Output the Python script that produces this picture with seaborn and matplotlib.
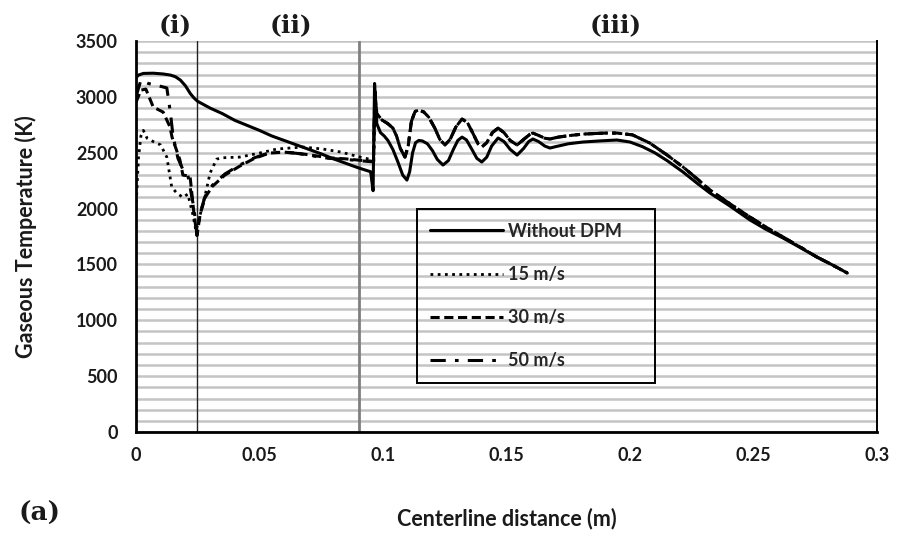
import numpy as np
import pandas as pd
import matplotlib
matplotlib.use("Agg")
import matplotlib.pyplot as plt
import seaborn as sns

# ---------------- data ----------------
# Without DPM (solid)
x_nodpm = [0, 0.001, 0.003, 0.007, 0.011, 0.014, 0.016, 0.018, 0.020, 0.022, 0.0235, 0.025,
           0.030, 0.035, 0.040, 0.045, 0.050, 0.055, 0.060, 0.065, 0.070, 0.075, 0.080, 0.085,
           0.090, 0.095, 0.0960, 0.0966, 0.0975, 0.099, 0.1005, 0.102, 0.104, 0.106, 0.108,
           0.1097, 0.1108, 0.112, 0.1132, 0.1145, 0.116, 0.118, 0.120, 0.122, 0.1243, 0.1265,
           0.1285, 0.1303, 0.132, 0.1338, 0.136, 0.138, 0.140, 0.142, 0.144, 0.1466, 0.149,
           0.1515, 0.1543, 0.157, 0.159, 0.1607, 0.163, 0.1655, 0.1676, 0.170, 0.175, 0.181,
           0.188, 0.1947, 0.200, 0.205, 0.210, 0.215, 0.2215, 0.227, 0.2324, 0.240, 0.2486,
           0.255, 0.262, 0.269, 0.2757, 0.282, 0.288]
t_nodpm = [3170, 3195, 3210, 3212, 3205, 3195, 3180, 3150, 3100, 3030, 2990, 2960,
           2900, 2850, 2790, 2745, 2700, 2650, 2610, 2570, 2530, 2490, 2445, 2405,
           2365, 2330, 2160, 3120, 2760, 2680, 2650, 2610, 2530, 2420, 2300,
           2255, 2330, 2500, 2590, 2610, 2605, 2580, 2520, 2440, 2390, 2430,
           2530, 2610, 2640, 2615, 2530, 2450, 2417, 2460, 2560, 2632, 2600,
           2530, 2479, 2540, 2600, 2623, 2600, 2560, 2542, 2555, 2580, 2596,
           2606, 2614, 2596, 2555, 2500, 2430, 2327, 2230, 2139, 2030, 1898,
           1815, 1736, 1650, 1566, 1495, 1423]

# Region (iii) for the DPM cases (the three curves overlap there)
x_dpm_iii = [0.0962, 0.0967, 0.0975, 0.0996, 0.102, 0.104, 0.1055, 0.107, 0.1089, 0.1102,
             0.1115, 0.113, 0.1145, 0.1165, 0.1185, 0.121, 0.123, 0.1251, 0.1272, 0.1295,
             0.132, 0.1342, 0.1365, 0.1385, 0.140, 0.142, 0.1443, 0.1466, 0.149, 0.1515,
             0.1543, 0.157, 0.1595, 0.1607, 0.163, 0.1655, 0.1676, 0.171, 0.176, 0.181,
             0.190, 0.1947, 0.201, 0.208, 0.215, 0.2215, 0.227, 0.2324, 0.240, 0.2486,
             0.255, 0.262, 0.269, 0.2757, 0.282, 0.288]
t_dpm_iii = [2420, 3050, 2850, 2793, 2760, 2721, 2650, 2540, 2461, 2560,
             2780, 2870, 2882, 2865, 2820, 2720, 2620, 2569, 2620, 2730,
             2802, 2770, 2670, 2580, 2551, 2590, 2680, 2721, 2680, 2610,
             2569, 2620, 2665, 2676, 2655, 2630, 2623, 2640, 2655, 2667,
             2676, 2676, 2660, 2587, 2480, 2372, 2270, 2166, 2050, 1924,
             1835, 1745, 1655, 1566, 1495, 1423]

# 15 m/s (dotted), regions (i)-(ii)
x_15 = [0, 0.001, 0.002, 0.003, 0.0045, 0.007, 0.010, 0.0125, 0.0145, 0.0165, 0.019,
        0.021, 0.023, 0.0243, 0.0255, 0.0285, 0.030, 0.0327, 0.035, 0.042, 0.050, 0.057,
        0.0675, 0.0757, 0.083, 0.0907, 0.095]
t_15 = [1990, 2450, 2650, 2700, 2630, 2600, 2570, 2460, 2190, 2140, 2100,
        2130, 1950, 1800, 1900, 2166, 2318, 2443, 2455, 2461, 2497, 2533,
        2551, 2533, 2506, 2461, 2440]

# 30 m/s (dashed), regions (i)-(ii)
x_30 = [0, 0.002, 0.004, 0.007, 0.011, 0.0138, 0.0146, 0.0178, 0.019, 0.0219, 0.0235,
        0.0247, 0.026, 0.028, 0.031, 0.036, 0.042, 0.048, 0.054, 0.060, 0.065, 0.072,
        0.078, 0.085, 0.090, 0.095]
t_30 = [2950, 3060, 3070, 2909, 2864, 2730, 2640, 2435, 2300, 2290, 1950,
        1760, 1950, 2100, 2200, 2300, 2380, 2450, 2497, 2505, 2497, 2475,
        2455, 2445, 2434, 2425]

# 50 m/s (dash-dot), regions (i)-(ii)
x_50 = [0, 0.002, 0.005, 0.009, 0.0125, 0.014, 0.015, 0.017, 0.019, 0.021, 0.0235,
        0.0247, 0.026, 0.028, 0.031, 0.036, 0.042, 0.048, 0.054, 0.060, 0.065, 0.072,
        0.078, 0.085, 0.090, 0.095]
t_50 = [3000, 3150, 3120, 3100, 3080, 2850, 2650, 2450, 2350, 2300, 2000,
        1760, 1960, 2110, 2210, 2310, 2390, 2455, 2500, 2505, 2495, 2470,
        2450, 2440, 2430, 2420]

labels = ["Without DPM", "15 m/s", "30 m/s", "50 m/s"]
region_labels = ["(i)", "(ii)", "(iii)"]
region_label_x = [0.0158, 0.0628, 0.1944]
region_bounds = [0.0247, 0.0903]
y_ticks = [0, 500, 1000, 1500, 2000, 2500, 3000, 3500]
x_ticks = [0, 0.05, 0.1, 0.15, 0.2, 0.25, 0.3]
x_ticklabels = ["0", "0.05", "0.1", "0.15", "0.2", "0.25", "0.3"]

# ---------------- plotting ----------------
sns.set_style("white")
plt.rcParams["font.family"] = ["Lato", "DejaVu Sans"]
plt.rcParams["font.weight"] = "bold"

fig = plt.figure(figsize=(8.98, 5.37), dpi=100)
ax = fig.add_axes([0.1514, 0.1955, 0.8252, 0.7281])

frames = [
    pd.DataFrame({"x": x_nodpm, "T": t_nodpm}),
    pd.DataFrame({"x": x_15 + x_dpm_iii, "T": t_15 + t_dpm_iii}),
    pd.DataFrame({"x": x_30 + x_dpm_iii, "T": t_30 + t_dpm_iii}),
    pd.DataFrame({"x": x_50 + x_dpm_iii, "T": t_50 + t_dpm_iii}),
]
styles = [
    dict(linestyle="-", linewidth=2.2),
    dict(linestyle=(0, (1.0, 1.6)), linewidth=2.0),
    dict(linestyle=(0, (3.0, 1.5)), linewidth=2.2),
    dict(linestyle=(0, (5.0, 3.0, 1.2, 3.0)), linewidth=2.2),
]
for df, st, lab in zip(frames, styles, labels):
    sns.lineplot(data=df, x="x", y="T", ax=ax, color="black", sort=False,
                 estimator=None, label=lab, **st)

# region boundaries
ax.axvline(region_bounds[0], color="#222222", lw=1.0, zorder=1)
ax.axvline(region_bounds[1], color="#7f7f7f", lw=2.0, zorder=1)

ax.set_xlim(0, 0.3)
ax.set_ylim(0, 3500)
ax.set_yticks(y_ticks)
ax.set_yticks(np.arange(0, 3501, 100), minor=True)
ax.set_xticks(x_ticks)
ax.set_xticklabels(x_ticklabels)
ax.grid(False)
ax.yaxis.grid(True, which="both", color="#c4c4c4", lw=1.8, zorder=0)
ax.set_axisbelow(True)
ax.tick_params(axis="y", which="minor", length=0)
ax.tick_params(axis="both", which="major", direction="out", length=6, width=1.6,
               color="black", labelsize=13)
ax.tick_params(axis="y", which="major", pad=7)
ax.tick_params(axis="x", which="major", pad=5)
for lab in ax.get_xticklabels() + ax.get_yticklabels():
    lab.set_fontweight("bold")
    lab.set_color("#1a1a1a")

for side in ["left", "bottom"]:
    ax.spines[side].set_color("black")
    ax.spines[side].set_linewidth(2.0)
ax.spines["right"].set_color("black")
ax.spines["right"].set_linewidth(1.4)
ax.spines["top"].set_visible(False)

ax.set_xlabel("Centerline distance (m)", fontsize=15.5, fontweight="bold", labelpad=31,
              color="#1a1a1a")
ax.set_ylabel("Gaseous Temperature (K)", fontsize=15.5, fontweight="bold", labelpad=28,
              color="#1a1a1a")

for txt, xv in zip(region_labels, region_label_x):
    ax.text(xv, 1.041, txt, transform=ax.get_xaxis_transform(), ha="center", va="center",
            fontsize=18, fontweight="bold", color="#1a1a1a", family="DejaVu Serif")

fig.text(0.0445, 0.0447, "(a)", fontsize=19, fontweight="bold", ha="center", va="center",
         color="#1a1a1a", family="DejaVu Serif")

leg = ax.legend(loc="upper left", bbox_to_anchor=(0.379, 0.570, 0.321, 0.0), mode="expand",
                frameon=True, fancybox=False, framealpha=1.0, facecolor="none",
                edgecolor="black", labelspacing=1.45, handlelength=4.0, handletextpad=0.3,
                borderpad=0.75, borderaxespad=0.0, prop={"weight": "bold", "size": 13})
leg.get_frame().set_linewidth(1.4)

fig.savefig("out.png", dpi=100)
